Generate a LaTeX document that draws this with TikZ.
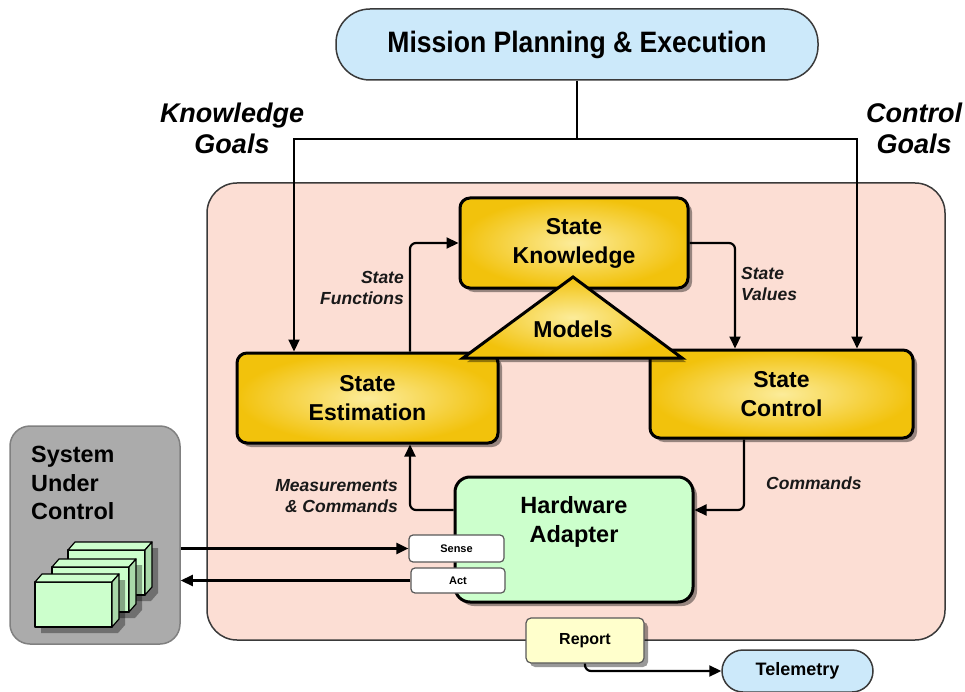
\documentclass[tikz,border=0pt]{standalone}
\usepackage{fontspec}
\setmainfont{Liberation Sans}
\usetikzlibrary{arrows.meta,shadows}
\definecolor{mpblue}{HTML}{CCE9FA}
\definecolor{pinkbg}{HTML}{FCDED4}
\definecolor{grayb}{HTML}{ABABAB}
\definecolor{hwgreen}{HTML}{CCFFCC}
\definecolor{sidegreen}{HTML}{A9D9A9}
\definecolor{yout}{HTML}{F2C20C}
\definecolor{yin}{HTML}{FCEC9A}
\definecolor{repyel}{HTML}{FFFFCC}
\definecolor{bord}{HTML}{3A3A3A}
\newcommand\gcube[2]{%
  \fill[black,opacity=0.35] (#1+6,#2+6) -- (#1+13,#2-2) -- (#1+90,#2-2) -- (#1+90,#2+43) -- (#1+83,#2+51) -- (#1+6,#2+51) -- cycle;
  \draw[cubeline,fill=hwgreen] (#1,#2) rectangle (#1+77,#2+45);
  \draw[cubeline,fill=hwgreen] (#1,#2) -- (#1+7,#2-8) -- (#1+84,#2-8) -- (#1+77,#2) -- cycle;
  \draw[cubeline,fill=sidegreen] (#1+77,#2) -- (#1+84,#2-8) -- (#1+84,#2+37) -- (#1+77,#2+45) -- cycle;
}
\begin{document}
\begin{tikzpicture}[x=1pt,y=-1pt,
  shad/.style={drop shadow={shadow xshift=4pt,shadow yshift=-4pt,opacity=0.4,fill=black}},
  ybox/.style={shad,draw=black,line width=3pt,rounded corners=10pt,inner color=yin,outer color=yout,
    align=center,inner sep=0pt,font=\bfseries\fontsize{23}{29}\selectfont},
  pill/.style={draw=bord,line width=1.5pt,fill=mpblue,inner sep=0pt,font=\bfseries},
  goal/.style={align=center,inner sep=0pt,font=\bfseries\itshape\fontsize{27}{31}\selectfont},
  lab/.style={inner sep=0pt,font=\bfseries\itshape\fontsize{17.5}{21}\selectfont,text=black!90},
  sabox/.style={draw=black!65,line width=1.2pt,fill=white,rounded corners=4pt,inner sep=0pt,font=\bfseries\fontsize{11}{13}\selectfont},
  conn/.style={line width=2.2pt,draw=black},
  arr/.style={conn,-{Triangle[length=12pt,width=11pt]}},
  cubeline/.style={draw=black,line width=1.2pt,line join=round},
]
\useasboundingbox (0,0) rectangle (965,692);
% mission planning
\node[pill,rounded corners=34pt,minimum width=482pt,minimum height=71pt,font=\bfseries\fontsize{29.5}{31}\selectfont\addfontfeature{FakeStretch=0.9}] (mp) at (577,44.5) {Mission Planning \& Execution};
\node[goal] (kgl) at (232,128) {Knowledge\\Goals};
\node[goal] (cgl) at (914,128) {Control\\Goals};
% containers
\node[draw=bord,line width=1.5pt,fill=pinkbg,rounded corners=30pt,minimum width=738pt,minimum height=457pt] (ctr) at (576,411.5) {};
\node[draw=black!50,line width=1.5pt,fill=grayb,rounded corners=20pt,minimum width=170pt,minimum height=218pt] (suc) at (95,535) {};
\node[anchor=north west,align=left,inner sep=0pt,font=\bfseries\fontsize{23.4}{28.5}\selectfont] (suclab) at (31,446) {System\\Under\\Control};
\gcube{68}{550}
\gcube{52}{567}
\gcube{35}{582}
% yellow blocks
\node[ybox,minimum width=261pt,minimum height=90pt] (est) at (367.5,398) {State\\Estimation};
\node[ybox,minimum width=263pt,minimum height=88pt] (ctrl) at (781.5,394) {State\\Control};
\node[ybox,minimum width=228pt,minimum height=90pt] (sk) at (574,243) {State\\Knowledge};
\path[shad,draw=black,line width=3pt,line join=miter,inner color=yin,outer color=yout] (573,277) -- (463,358) -- (682,358) -- cycle;
\node[inner sep=0pt,font=\bfseries\fontsize{23}{29}\selectfont] (models) at (573,329) {Models};
% hardware adapter
\node[shad,draw=black,line width=3pt,fill=hwgreen,rounded corners=15pt,minimum width=238pt,minimum height=125pt,
  label={[align=center,inner sep=0pt,yshift=18pt,font=\bfseries\fontsize{23.5}{29}\selectfont]center:Hardware\\Adapter}] (hw) at (574,539.5) {};
\node[sabox,minimum width=95pt,minimum height=27pt] (sense) at (456.5,548.5) {Sense};
\node[sabox,minimum width=94pt,minimum height=25pt] (act) at (458,580.5) {Act};
% report & telemetry
\node[shad,draw=black!65,line width=1.2pt,fill=repyel,rounded corners=5pt,minimum width=118pt,minimum height=45pt,inner sep=0pt,font=\bfseries\fontsize{16}{18}\selectfont] (rep) at (585,640.5) {Report};
\node[pill,rounded corners=21pt,minimum width=151pt,minimum height=42pt,font=\bfseries\fontsize{18}{20}\selectfont] (tel) at (797.5,671) {Telemetry};
% connector helpers
\coordinate (split) at (577,139);
\coordinate (kgc) at (294,139);
\coordinate (cgc) at (857,139);
\coordinate (sfx) at (410,0);
\coordinate (svx) at (735,0);
\coordinate (cmx) at (744,0);
\coordinate (cmy) at (0,510);
% connectors
\draw[conn] (mp.south) -- (split);
\draw[arr] (split) -- (kgc) -- (kgc |- est.north);
\draw[arr] (split) -- (cgc) -- (cgc |- ctrl.north);
\draw[arr,rounded corners=6pt] (sfx |- est.north) |- (sk.west);
\draw[arr,rounded corners=6pt] (sk.east) -| (svx |- ctrl.north);
\draw[arr,rounded corners=6pt] (cmx |- ctrl.south) |- (hw.east |- cmy);
\draw[arr,rounded corners=6pt] (hw.west |- cmy) -| (sfx |- est.south);
\draw[arr] (suc.east |- sense.west) -- (sense.west);
\draw[arr] (act.west) -- (suc.east |- act.west);
\draw[arr,rounded corners=6pt] (rep.south) |- (tel.west);
% labels
\node[lab,anchor=east,align=right] (lsf) at (404,288) {State\\Functions};
\node[lab,anchor=west,align=left] (lsv) at (741,284) {State\\Values};
\node[lab,anchor=east,align=right] (lmc) at (398,496) {Measurements\\\& Commands};
\node[lab,anchor=west] (lcm) at (766,483) {Commands};
\end{tikzpicture}
\end{document}
